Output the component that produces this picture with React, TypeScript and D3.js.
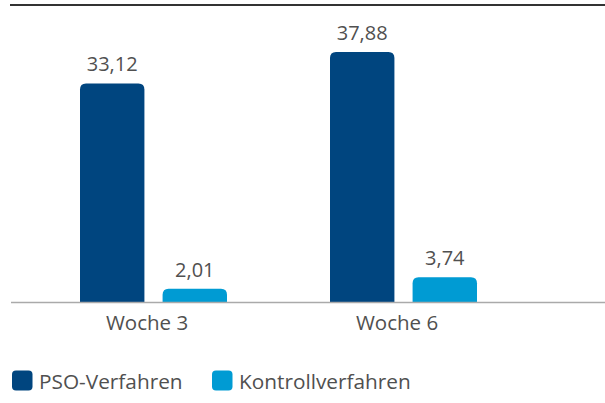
import React from "react";
import * as d3 from "d3";

const categories = ["Woche 3", "Woche 6"];
const series = ["PSO-Verfahren", "Kontrollverfahren"];
const psoValues = [33.12, 37.88];
const kontrollValues = [2.01, 3.74];
const colors = ["#00457f", "#009bd3"];

const W = 605;
const H = 403;
const baseY = 302;
const topY = 5;

function fmt(v: number) {
  return v.toFixed(2).replace(".", ",");
}

function topRoundedRect(x: number, y: number, w: number, h: number, r: number) {
  const rr = Math.min(r, h, w / 2);
  return `M${x},${y + h}V${y + rr}Q${x},${y} ${x + rr},${y}H${x + w - rr}Q${x + w},${y} ${x + w},${y + rr}V${y + h}Z`;
}

export default function App() {
  const y = d3.scaleLinear().domain([0, 45]).range([baseY, topY]);
  const x0 = d3.scaleBand<string>().domain(categories).range([22, 522]).padding(0);
  const x1 = d3.scaleBand<string>().domain(series).range([58, 205]).paddingInner(0.22).paddingOuter(0);
  const valuesBySeries = [psoValues, kontrollValues];
  const font = "'Open Sans', 'Noto Sans', sans-serif";

  return (
    <svg width={W} height={H} style={{ position: "absolute", left: 0, top: 0 }} fontFamily={font}>
      <rect width={W} height={H} fill="#fff" />
      <line x1={10} x2={W} y1={5} y2={5} stroke="#333" strokeWidth={2} />
      {categories.map((c, ci) => (
        <g key={c}>
          {series.map((s, si) => {
            const v = valuesBySeries[si][ci];
            const bx = (x0(c) as number) + (x1(s) as number);
            const bw = x1.bandwidth();
            const by = y(v);
            return (
              <g key={s}>
                <path d={topRoundedRect(bx, by, bw, baseY - by, 6)} fill={colors[si]} />
                <text x={bx + bw / 2} y={by - 12} textAnchor="middle" fontSize={20} fill="#505050">
                  {fmt(v)}
                </text>
              </g>
            );
          })}
          <text
            x={(x0(c) as number) + x0.bandwidth() / 2}
            y={330}
            textAnchor="middle"
            fontSize={20.5}
            fill="#505050"
          >
            {c}
          </text>
        </g>
      ))}
      <line x1={11} x2={W} y1={302.5} y2={302.5} stroke="#aaa" strokeWidth={1.5} />
      {series.map((s, si) => {
        const lx = [12, 212][si];
        return (
          <g key={s}>
            <rect x={lx} y={370.5} width={20.5} height={20} rx={4} fill={colors[si]} />
            <text x={lx + 27} y={389} fontSize={20.8} fill="#505050">
              {s}
            </text>
          </g>
        );
      })}
    </svg>
  );
}
